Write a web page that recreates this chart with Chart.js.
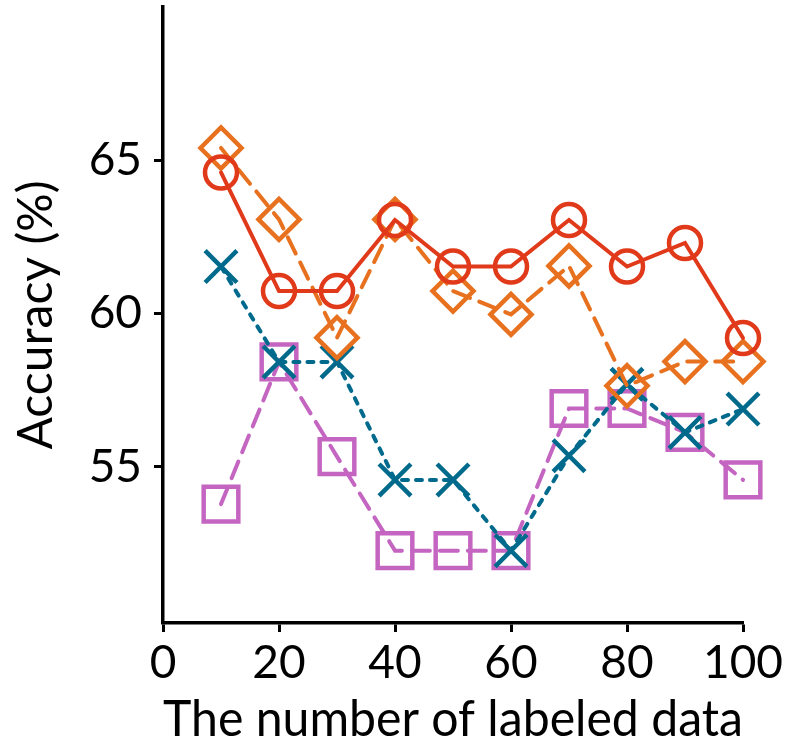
<!DOCTYPE html>
<html>
<head>
<meta charset="utf-8">
<script src="https://cdn.jsdelivr.net/npm/chart.js@4"></script>
<style>
  html, body { margin: 0; padding: 0; background: #fff; }
  #wrap { width: 794px; height: 750px; }
</style>
</head>
<body>
<div id="wrap"><canvas id="chart"></canvas></div>
<script>
const xValues = [10, 20, 30, 40, 50, 60, 70, 80, 90, 100];
const redCircle = [64.6, 60.73, 60.73, 63.05, 61.53, 61.53, 63.05, 61.53, 62.3, 59.2];
const orangeDiamond = [65.4, 63.07, 59.21, 63.07, 60.73, 59.97, 61.55, 57.64, 58.43, 58.43];
const blueCross = [61.53, 58.42, 58.42, 54.57, 54.57, 52.26, 55.36, 57.69, 56.12, 56.88];
const pinkSquare = [53.78, 58.42, 55.33, 52.26, 52.26, 52.26, 56.9, 56.9, 56.12, 54.57];
const yTicks = [55, 60, 65];

const font = "'Lato', 'Open Sans', sans-serif";

function pts(values) {
  return values.map((v, i) => ({ x: xValues[i], y: v }));
}

function series(values, color, style, radius, dash) {
  return {
    data: pts(values),
    borderColor: color,
    backgroundColor: 'transparent',
    borderWidth: 4,
    borderDash: dash,
    borderCapStyle: 'round',
    pointStyle: style,
    pointRadius: radius,
    pointHoverRadius: radius,
    pointBorderWidth: 4.5,
    pointBorderColor: color,
    pointBackgroundColor: 'transparent',
    tension: 0,
    clip: false,
  };
}

new Chart('chart', {
  type: 'line',
  data: {
    datasets: [
      series(redCircle, '#e13a1b', 'circle', 16, []),
      series(orangeDiamond, '#e7711f', 'rectRot', 20.5, [18, 10]),
      series(blueCross, '#006a8d', 'crossRot', 22.5, [6, 8]),
      series(pinkSquare, '#c466c1', 'rect', 24.5, [18, 10]),
    ],
  },
  options: {
    responsive: true,
    maintainAspectRatio: false,
    animation: false,
    layout: { autoPadding: false, padding: { top: 7, right: 51, left: 0, bottom: 0 } },
    plugins: { legend: { display: false }, tooltip: { enabled: false } },
    scales: {
      x: {
        type: 'linear',
        min: 0,
        max: 100,
        ticks: { stepSize: 20, color: '#000', font: { family: font, size: 46 }, padding: 4, maxRotation: 0 },
        grid: { drawOnChartArea: false, drawTicks: true, tickLength: 9, tickWidth: 3, tickColor: '#000' },
        border: { color: '#000', width: 3.5 },
        title: { display: true, text: 'The number of labeled data', color: '#000', font: { family: font, size: 50 }, padding: { top: 0, bottom: 0 } },
        afterFit: (scale) => {
          scale.height = 127;
          scale.paddingLeft = 0;
          scale.paddingRight = 0;
        },
      },
      y: {
        type: 'linear',
        min: 49.9,
        max: 70,
        afterBuildTicks: (scale) => { scale.ticks = yTicks.map((v) => ({ value: v })); },
        ticks: { color: '#000', font: { family: font, size: 46 }, padding: 12 },
        grid: { drawOnChartArea: false, drawTicks: true, tickLength: 9, tickWidth: 3, tickColor: '#000' },
        border: { color: '#000', width: 3.5 },
        title: { display: true, text: 'Accuracy (%)', color: '#000', font: { family: font, size: 48 }, padding: { top: 8, bottom: 0 } },
        afterFit: (scale) => {
          scale.width = 163;
          scale.paddingTop = 0;
          scale.paddingBottom = 0;
        },
      },
    },
  },
});
</script>
</body>
</html>
